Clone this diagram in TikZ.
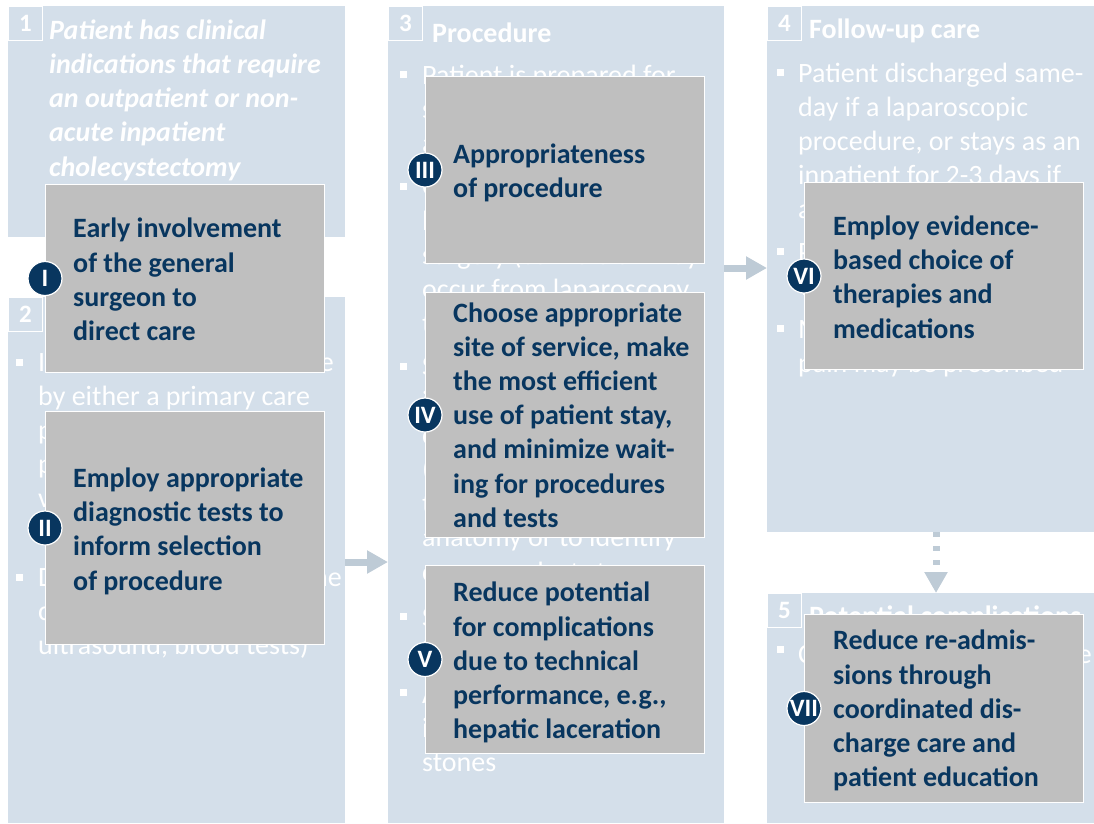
\documentclass[tikz,border=0pt]{standalone}
\usepackage{fontspec}
\setmainfont{Carlito}
\usetikzlibrary{arrows.meta}

\definecolor{panelblue}{RGB}{212,223,234}
\definecolor{levergray}{RGB}{191,191,191}
\definecolor{navy}{RGB}{8,54,95}
\definecolor{arrowgray}{RGB}{190,203,214}

\tikzset{
  panel/.style={fill=panelblue, anchor=north west, inner sep=0},
  numbox/.style={draw=white, line width=1pt, minimum size=34, inner sep=0, anchor=north west,
    text=white, font=\bfseries\fontsize{25}{28}\selectfont},
  ptext/.style={anchor=north west, inner sep=0, align=left, text=white,
    font=\fontsize{28}{34.2}\selectfont, execute at begin node=\strut},
  bulletsq/.style={fill=white, minimum size=7, inner sep=0},
  lever/.style={fill=levergray, draw=white, line width=1pt, anchor=north west, inner sep=0},
  levtext/.style={anchor=west, inner sep=0, align=left, text=navy,
    font=\bfseries\fontsize{28}{34.2}\selectfont, execute at begin node=\strut},
  roman/.style={circle, fill=navy, draw=white, line width=1.2pt, minimum size=34, inner sep=0,
    text=white, font=\bfseries\fontsize{25}{25}\selectfont},
  flowarrow/.style={draw=arrowgray, line width=7pt, -{Triangle[width=22pt,length=21pt]}}
}

\begin{document}
\begin{tikzpicture}[x=1pt,y=-1pt]
\useasboundingbox (0,0) rectangle (1094,823);

% pathway steps
\node[panel, minimum width=337, minimum height=231] (p1) at (8,6) {};
\node[panel, minimum width=337, minimum height=526] (p2) at (8,297) {};
\node[panel, minimum width=336, minimum height=817] (p3) at (388,6) {};
\node[panel, minimum width=327, minimum height=526] (p4) at (767,6) {};
\node[panel, minimum width=327, minimum height=230] (p5) at (767,593) {};

\node[numbox] (n1) at (p1.north west) {1};
\node[numbox] (n2) at (p2.north west) {2};
\node[numbox] (n3) at (p3.north west) {3};
\node[numbox] (n4) at (p4.north west) {4};
\node[numbox] (n5) at (p5.north west) {5};

% step texts (mostly covered by the levers)
\node[ptext, font=\bfseries\itshape\fontsize{28}{34.2}\selectfont] (s1) at (49,19.5)
  {Patient has clinical\\indications that require\\an outpatient or non-\\acute inpatient\\cholecystectomy};

\node[bulletsq] at (19,362) {};
\node[ptext] (s2a) at (38,351.5) {Initial assessment is made\\by either a primary care\\physician, emergency\\physician or surgeon\\via symptoms and\\referral};
\node[bulletsq] at (19,577) {};
\node[ptext] (s2b) at (38,566.5) {Diagnosis is made with the\\correct tests (e.g., CT,\\ultrasound, blood tests)};

\node[ptext, font=\bfseries\fontsize{28}{34.2}\selectfont] (h3) at (432,18.5) {Procedure};
\node[bulletsq] at (403,74) {};
\node[ptext] (s3a) at (422,64.5) {Patient is prepared for\\surgery; general\\anesthesia given};
\node[bulletsq] at (403,186) {};
\node[ptext] (s3b) at (422,176.5) {Gallbladder removed via\\laparoscopic or open\\surgery (conversion may\\occur from laparoscopy\\to open surgery)};
\node[bulletsq] at (403,366) {};
\node[ptext] (s3c) at (422,356.5) {Surgeon may perform\\intraoperative\\cholangiography\\(X-ray of bile ducts)\\to clarify biliary\\anatomy or to identify\\common duct stones};
\node[bulletsq] at (403,616) {};
\node[ptext] (s3d) at (422,606.5) {Surgeon closes the\\incisions};
\node[bulletsq] at (403,692) {};
\node[ptext] (s3e) at (422,683.5) {Additional ERCP may be\\indicated for retained\\stones};

\node[ptext, font=\bfseries\fontsize{28}{34.2}\selectfont] (h4) at (809,14.5) {Follow-up care};
\node[bulletsq] at (780,72) {};
\node[ptext] (s4a) at (798,62.5) {Patient discharged same-\\day if a laparoscopic\\procedure, or stays as an\\inpatient for 2-3 days if\\an open procedure};
\node[bulletsq] at (780,251) {};
\node[ptext] (s4b) at (798,241.5) {Patient has a follow-up\\visit with the surgeon};
\node[bulletsq] at (780,328) {};
\node[ptext] (s4c) at (798,318.5) {Medication to manage\\pain may be prescribed};

\node[ptext, font=\bfseries\fontsize{28}{34.2}\selectfont] (h5) at (809,601.5) {Potential complications};
\node[bulletsq] at (780,649) {};
\node[ptext] (s5a) at (798,639.5) {Complications include the};

% flow between steps
\coordinate (a23) at (0,562);
\coordinate (a34) at (0,268);
\coordinate (a45) at (936,0);
\draw[flowarrow] (p2.east |- a23) -- (p3.west |- a23);
\draw[flowarrow] (p3.east |- a34) -- (p4.west |- a34);
\draw[flowarrow, dash pattern=on 5pt off 9pt] (p4.south -| a45) -- (p5.north -| a45);

% value levers
\node[lever, minimum width=279, minimum height=188] (lev1) at (45,184) {};
\node[lever, minimum width=279, minimum height=233] (lev2) at (45,411) {};
\node[lever, minimum width=279, minimum height=187] (lev3) at (425,76) {};
\node[lever, minimum width=279, minimum height=245] (lev4) at (425,292) {};
\node[lever, minimum width=279, minimum height=188] (lev5) at (425,565) {};
\node[lever, minimum width=279, minimum height=187] (lev6) at (804,182) {};
\node[lever, minimum width=279, minimum height=188] (lev7) at (804,614) {};

\node[levtext] (t1) at ([xshift=28,yshift=-6]lev1.west) {Early involvement\\of the general\\surgeon to\\direct care};
\node[levtext] (t2) at ([xshift=28,yshift=-6]lev2.west) {Employ appropriate\\diagnostic tests to\\inform selection\\of procedure};
\node[levtext] (t3) at ([xshift=28,yshift=-6]lev3.west) {Appropriateness\\of procedure};
\node[levtext] (t4) at ([xshift=28,yshift=-5]lev4.west) {Choose appropriate\\site of service, make\\the most efficient\\use of patient stay,\\and minimize wait-\\ing for procedures\\and tests};
\node[levtext] (t5) at ([xshift=28,yshift=-6]lev5.west) {Reduce potential\\for complications\\due to technical\\performance, e.g.,\\hepatic laceration};
\node[levtext] (t6) at ([xshift=29,yshift=-6]lev6.west) {Employ evidence-\\based choice of\\therapies and\\medications};
\node[levtext] (t7) at ([xshift=29,yshift=-5]lev7.west) {Reduce re-admis-\\sions through\\coordinated dis-\\charge care and\\patient education};

\node[roman] (r1) at (lev1.west) {I};
\node[roman] (r2) at (lev2.west) {II};
\node[roman] (r3) at (lev3.west) {III};
\node[roman] (r4) at (lev4.west) {IV};
\node[roman] (r5) at (lev5.west) {V};
\node[roman] (r6) at (lev6.west) {VI};
\node[roman] (r7) at (lev7.west) {VII};
\end{tikzpicture}
\end{document}
